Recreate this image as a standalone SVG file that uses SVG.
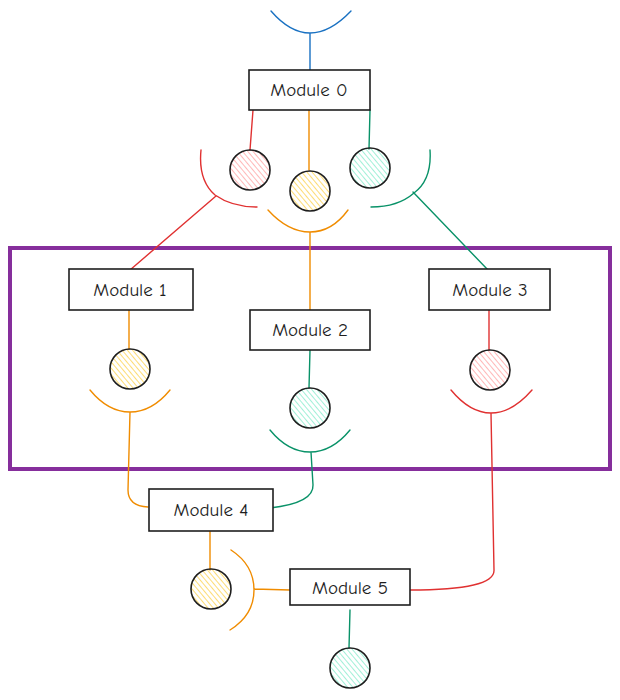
<svg xmlns="http://www.w3.org/2000/svg" width="620" height="700" viewBox="0 0 620 700">
<style>
.box{fill:#fff;stroke:#1e1e1e;stroke-width:1.6}
.lbl{font-family:"Comic Neue","Liberation Sans",sans-serif;font-size:19px;fill:#1e1e1e;text-anchor:middle;dominant-baseline:central}
.ball{stroke:#1e1e1e;stroke-width:1.6}
.c{fill:none;stroke-width:1.4;stroke-linecap:round}
.r{stroke:#e03131}.o{stroke:#f08c00}.g{stroke:#099268}.b{stroke:#1971c2}
</style>
<defs>
<pattern id="hr" width="4" height="4" patternUnits="userSpaceOnUse" patternTransform="rotate(-40)"><line x1="0" y1="0" x2="0" y2="4" stroke="#ff8787" stroke-width="1.2"/></pattern>
<pattern id="ho" width="4" height="4" patternUnits="userSpaceOnUse" patternTransform="rotate(-40)"><line x1="0" y1="0" x2="0" y2="4" stroke="#fcc419" stroke-width="1.2"/></pattern>
<pattern id="hg" width="4" height="4" patternUnits="userSpaceOnUse" patternTransform="rotate(-40)"><line x1="0" y1="0" x2="0" y2="4" stroke="#63e6be" stroke-width="1.2"/></pattern>
</defs>
<rect x="10" y="248" width="600" height="221" fill="none" stroke="#862e9c" stroke-width="4"/>
<g id="connectors">
<path class="c b" d="M271 11 Q290 33 310 33 Q330 33 351 11 M310 33 L310 70"/>
<path class="c r" d="M253 110 L250 150"/>
<path class="c o" d="M309 110 L309 170"/>
<path class="c g" d="M370 110 L369 149"/>
<path class="c r" d="M201 150 Q198 180 215 195 Q232 207 257 207 M216 196 L130 270"/>
<path class="c o" d="M268 210 Q288 232 310 232 Q332 232 348 210 M310 232 L310 310"/>
<path class="c g" d="M430 150 Q432 180 414 193 Q398 207 371 207 M413 192 L488 270"/>
<path class="c o" d="M129 310 L129 349"/>
<path class="c o" d="M90 390 Q108 412 130 412 Q152 412 170 390 M130 412 L128 490 Q128 506 148 507"/>
<path class="c g" d="M310 350 L309 388"/>
<path class="c g" d="M270 430 Q288 452 310 452 Q332 452 350 430 M311 452 L313 485 Q314 503 270 508"/>
<path class="c r" d="M489 310 L489 350"/>
<path class="c r" d="M451 390 Q470 413 491 413 Q512 413 532 390 M491 413 L494 570 Q495 590 410 590"/>
<path class="c o" d="M210 531 L210 570"/>
<path class="c o" d="M231 550 Q254 565 254 590 Q254 615 230 630 M254 589 L290 590"/>
<path class="c g" d="M350 610 L349 648"/>
</g>
<g id="module0"><rect class="box" x="249" y="70" width="121" height="40"/><text class="lbl" x="309" y="90">Module 0</text></g>
<g id="ball0r"><circle class="ball" cx="250" cy="170" r="20" fill="url(#hr)"/></g>
<g id="ball0o"><circle class="ball" cx="310" cy="191" r="20" fill="url(#ho)"/></g>
<g id="ball0g"><circle class="ball" cx="370" cy="168" r="20" fill="url(#hg)"/></g>
<g id="module1"><rect class="box" x="69" y="269" width="124" height="41"/><text class="lbl" x="130" y="290">Module 1</text></g>
<g id="ball1"><circle class="ball" cx="130" cy="369" r="20" fill="url(#ho)"/></g>
<g id="module2"><rect class="box" x="250" y="310" width="120" height="40"/><text class="lbl" x="310" y="330">Module 2</text></g>
<g id="ball2"><circle class="ball" cx="310" cy="408" r="20" fill="url(#hg)"/></g>
<g id="module3"><rect class="box" x="429" y="269" width="121" height="41"/><text class="lbl" x="490" y="290">Module 3</text></g>
<g id="ball3"><circle class="ball" cx="490" cy="370" r="20" fill="url(#hr)"/></g>
<g id="module4"><rect class="box" x="149" y="489" width="124" height="42"/><text class="lbl" x="211" y="510">Module 4</text></g>
<g id="ball4"><circle class="ball" cx="211" cy="589" r="20" fill="url(#ho)"/></g>
<g id="module5"><rect class="box" x="290" y="569" width="120" height="36"/><text class="lbl" x="350" y="588">Module 5</text></g>
<g id="ball5"><circle class="ball" cx="350" cy="668" r="20" fill="url(#hg)"/></g>
</svg>
